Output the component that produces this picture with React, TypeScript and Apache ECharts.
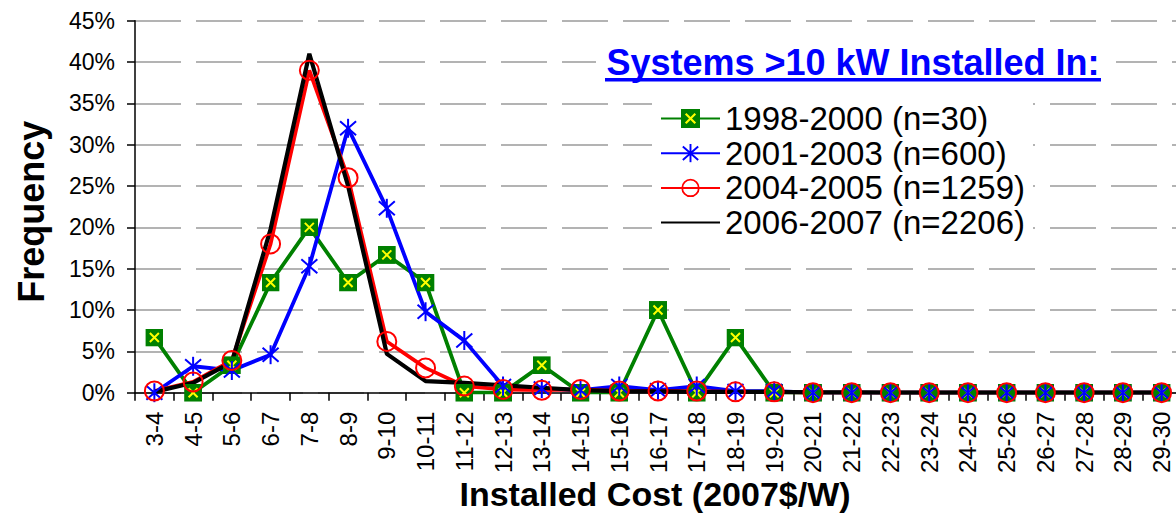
import React, { useEffect, useRef } from "react";
import * as echarts from "echarts";

const categories = [
  "3-4", "4-5", "5-6", "6-7", "7-8", "8-9", "9-10", "10-11", "11-12", "12-13",
  "13-14", "14-15", "15-16", "16-17", "17-18", "18-19", "19-20", "20-21", "21-22",
  "22-23", "23-24", "24-25", "25-26", "26-27", "27-28", "28-29", "29-30",
];

const s1998 = [6.67, 0, 3.33, 13.33, 20, 13.33, 16.67, 13.33, 0, 0, 3.33, 0, 0, 10, 0, 6.67, 0, 0, 0, 0, 0, 0, 0, 0, 0, 0, 0];
const s2001 = [0, 3.2, 2.7, 4.6, 15.3, 32, 22.3, 9.8, 6.3, 0.8, 0.5, 0.3, 0.8, 0.3, 0.8, 0.2, 0.2, 0, 0, 0, 0, 0, 0, 0, 0, 0, 0];
const s2004 = [0.2, 1.3, 3.9, 18, 39, 26, 6.2, 3.0, 0.8, 0.4, 0.3, 0.4, 0.2, 0.2, 0.2, 0.1, 0.1, 0, 0, 0, 0, 0, 0, 0, 0, 0, 0];
const s2006 = [0.1, 1.2, 3.7, 19.8, 41, 25, 4.7, 1.4, 1.2, 0.9, 0.6, 0.3, 0.2, 0.15, 0.1, 0.1, 0.1, 0.05, 0.05, 0, 0, 0, 0, 0, 0, 0, 0];

const seriesNames = ["1998-2000 (n=30)", "2001-2003 (n=600)", "2004-2005 (n=1259)", "2006-2007 (n=2206)"];

const yTicks = { min: 0, max: 45, interval: 5 };

const xAxisTitle = "Installed Cost (2007$/W)";
const legendTitle = "Systems >10 kW Installed In:";

const FONT = "'Liberation Sans', Arial, sans-serif";

const svgUrl = (svg: string) => "image://data:image/svg+xml;charset=utf-8," + encodeURIComponent(svg);

const greenSym = svgUrl(
  "<svg xmlns='http://www.w3.org/2000/svg' width='18' height='18' viewBox='0 0 18 18'><rect width='18' height='18' fill='#008000'/><path d='M4.5 4.5L13.5 13.5M13.5 4.5L4.5 13.5' stroke='#ffff00' stroke-width='2' fill='none'/></svg>"
);
const blueSym = svgUrl(
  "<svg xmlns='http://www.w3.org/2000/svg' width='20' height='20' viewBox='0 0 20 20'><path d='M10 0.5V19.5M2 3L18 17M18 3L2 17' stroke='#0000ff' stroke-width='2' fill='none'/></svg>"
);
const redSym = svgUrl(
  "<svg xmlns='http://www.w3.org/2000/svg' width='22' height='22' viewBox='0 0 22 22'><circle cx='11' cy='11' r='9.5' fill='none' stroke='#ff0000' stroke-width='2'/></svg>"
);
const noSym = svgUrl(
  "<svg xmlns='http://www.w3.org/2000/svg' width='2' height='2' viewBox='0 0 2 2'></svg>"
);

export default function App() {
  const ref = useRef<HTMLDivElement>(null);

  useEffect(() => {
    if (!ref.current) return;
    const chart = echarts.init(ref.current, undefined, { renderer: "svg" });
    const mk = (name: string, data: number[], color: string, width: number, symbol: string, size: number, show: boolean) => ({
      name,
      type: "line",
      data,
      symbol,
      symbolSize: size,
      showSymbol: show,
      lineStyle: { color, width },
      itemStyle: { color },
      emphasis: { disabled: true },
    });
    chart.setOption({
      animation: false,
      backgroundColor: "#ffffff",
      textStyle: { fontFamily: FONT },
      grid: { left: 135, top: 20.7, bottom: 122.3, right: -5, containLabel: false, outerBoundsMode: "none" },
      graphic: [
        { type: "rect", z: 50, shape: { x: 596, y: 40, width: 520, height: 47 }, style: { fill: "#ffffff" } },
        {
          type: "text", z: 51, x: 853, y: 62,
          style: { text: legendTitle, font: `bold 36px ${FONT}`, fill: "#0000ff", align: "center", verticalAlign: "middle" },
        },
        { type: "rect", z: 51, shape: { x: 605, y: 78, width: 496, height: 3.5 }, style: { fill: "#0000ff" } },
        {
          type: "text", z: 51, x: 655, y: 494,
          style: { text: xAxisTitle, font: `bold 34px ${FONT}`, fill: "#000", align: "center", verticalAlign: "middle" },
        },
      ],
      legend: {
        orient: "vertical",
        left: 652,
        top: 98,
        padding: [4, 8, 4, 8],
        backgroundColor: "#ffffff",
        itemWidth: 59,
        itemHeight: 24,
        itemGap: 1.7,
        z: 50,
        data: seriesNames,
        textStyle: { fontSize: 33, lineHeight: 32, color: "#000", fontFamily: FONT },
      },
      xAxis: {
        type: "category",
        data: categories,
        boundaryGap: true,
        axisLine: { lineStyle: { color: "#000", width: 1.5 } },
        axisTick: { show: true, length: 8, inside: false, interval: 0, lineStyle: { color: "#000", width: 1.5 } },
        axisLabel: { rotate: 90, interval: 0, fontSize: 24, color: "#000", margin: 19, fontFamily: FONT },
        splitLine: { show: false },
      },
      yAxis: {
        type: "value",
        min: yTicks.min,
        max: yTicks.max,
        interval: yTicks.interval,
        name: "Frequency",
        nameLocation: "middle",
        nameGap: 86,
        nameTextStyle: { fontSize: 36, fontWeight: "bold", color: "#000", fontFamily: FONT, padding: [0, 10, 0, 0] },
        axisLine: { show: true, lineStyle: { color: "#000", width: 1.5 } },
        axisTick: { show: true, length: 8, inside: false, lineStyle: { color: "#000", width: 1.5 } },
        axisLabel: { formatter: "{value}%", fontSize: 23, color: "#000", margin: 20, fontFamily: FONT },
        splitLine: { show: true, lineStyle: { color: "#9a9a9a", width: 1.5, type: [46, 15] } },
      },
      series: [
        mk(seriesNames[0], s1998, "#008000", 3.8, greenSym, 18, true),
        mk(seriesNames[1], s2001, "#0000ff", 3.8, blueSym, 20, true),
        mk(seriesNames[2], s2004, "#ff0000", 3.8, redSym, 22, true),
        mk(seriesNames[3], s2006, "#000000", 4.2, noSym, 2, false),
      ],
    });
    return () => chart.dispose();
  }, []);

  return (
    <div
      ref={ref}
      style={{ position: "fixed", left: 0, top: 0, width: 1176, height: 515, background: "#fff" }}
    />
  );
}
